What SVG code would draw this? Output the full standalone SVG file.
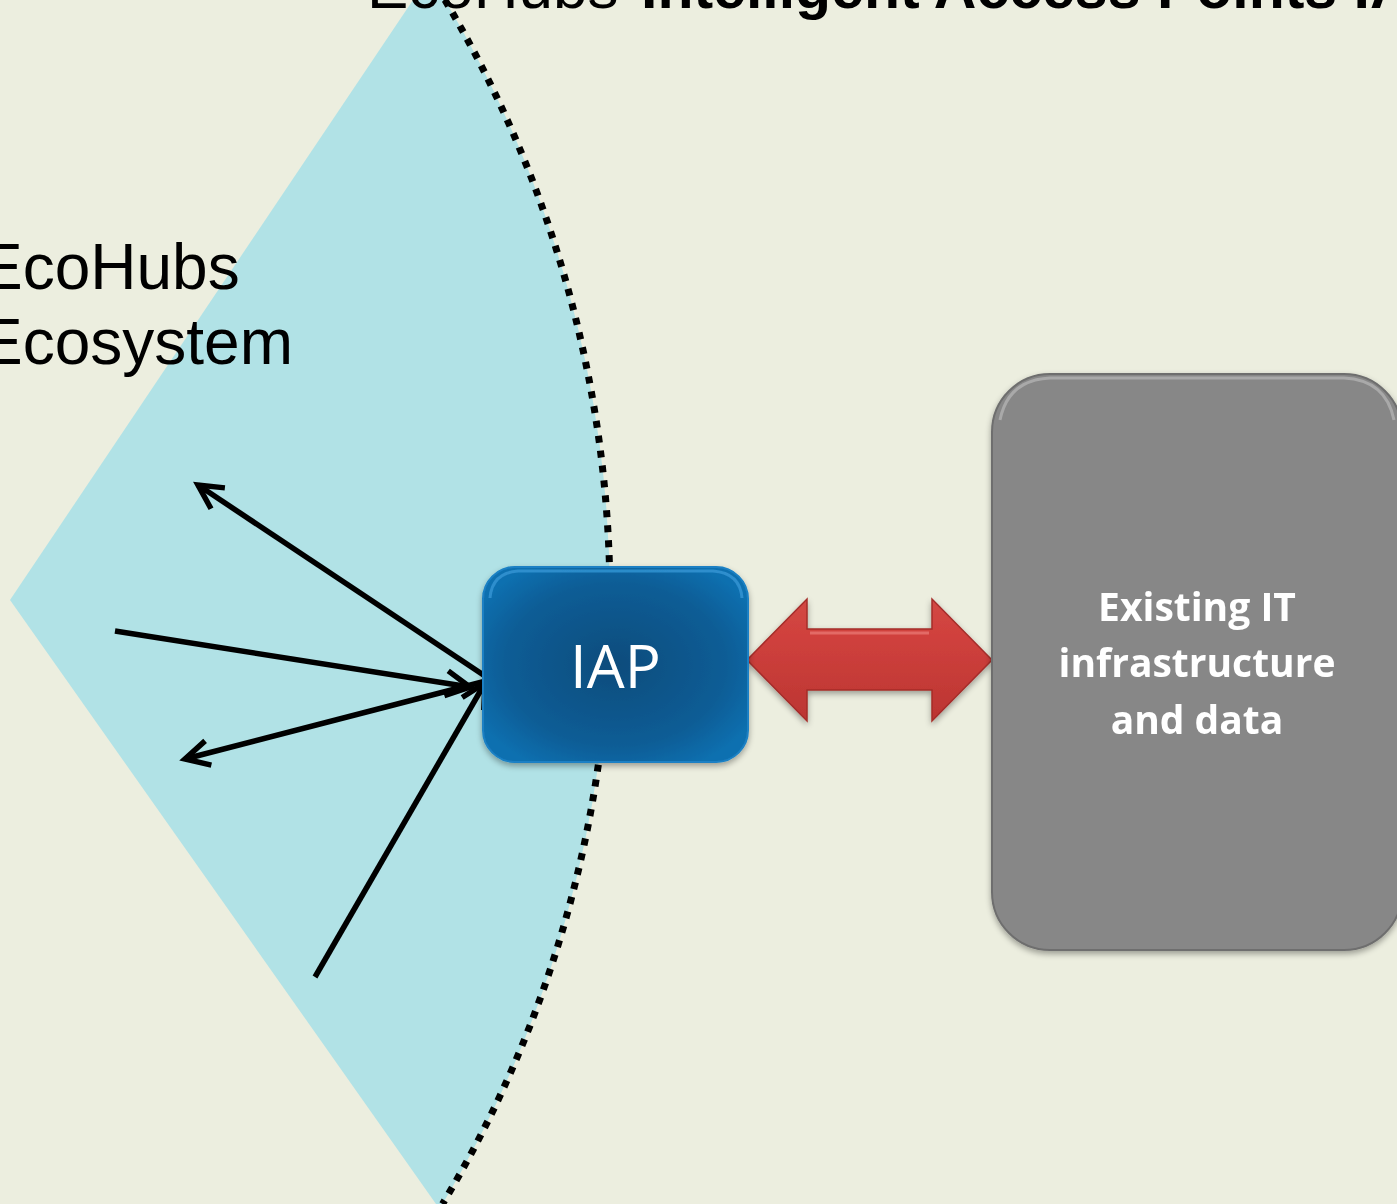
<svg xmlns="http://www.w3.org/2000/svg" width="1397" height="1204" viewBox="0 0 1397 1204">
<style>
.lbl{font-family:"Liberation Sans",Arial,sans-serif;fill:#000}
.wht{font-family:"Open Sans","Noto Sans",sans-serif;fill:#fff;text-anchor:middle}
.arw{stroke:#000;stroke-width:5.5;fill:none;marker-end:url(#head)}
</style>
<defs>
<marker id="head" markerUnits="userSpaceOnUse" viewBox="-30 -18 36 36" refX="0" refY="0" markerWidth="36" markerHeight="36" orient="auto">
<path d="M-24,-12.5 L0,0 L-24,12.5" fill="none" stroke="#000" stroke-width="5.5" stroke-linejoin="miter"/>
</marker>
<radialGradient id="iapG" cx="0.5" cy="0.5" r="0.6">
<stop offset="0" stop-color="#0a4c7c"/>
<stop offset="0.7" stop-color="#0c5d96"/>
<stop offset="1" stop-color="#1170b0"/>
</radialGradient>
<linearGradient id="redG" x1="0" y1="0" x2="0" y2="1">
<stop offset="0" stop-color="#d24844"/>
<stop offset="0.3" stop-color="#d0413d"/>
<stop offset="1" stop-color="#bb3532"/>
</linearGradient>
<filter id="sh" x="-10%" y="-10%" width="125%" height="125%">
<feGaussianBlur in="SourceAlpha" stdDeviation="3"/>
<feOffset dx="0" dy="3" result="b"/>
<feComponentTransfer><feFuncA type="linear" slope="0.35"/></feComponentTransfer>
<feMerge><feMergeNode/><feMergeNode in="SourceGraphic"/></feMerge>
</filter>
</defs>
<rect id="background" x="0" y="0" width="1397" height="1204" fill="#eceedf"/>
<g id="wedge">
<path d="M413,0 L10,600 L436,1204 L442.5,1204 A1173,1173 0 0 0 444.9,0 Z" fill="#b1e2e6"/>
<path d="M444.9,0 A1173,1173 0 0 1 442.5,1204" fill="none" stroke="#000" stroke-width="7" stroke-dasharray="7 8"/>
</g>
<g id="title">
<text class="lbl" x="367" y="8" font-size="62">EcoHubs <tspan x="641" font-size="59" font-weight="bold">Intelligent Access Points IA</tspan></text>
</g>
<g id="ecosystem-label">
<text class="lbl" x="-20" y="289" font-size="64">EcoHubs</text>
<text class="lbl" x="-20" y="364" font-size="64">Ecosystem</text>
</g>
<g id="connectors">
<line class="arw" x1="485" y1="676" x2="198" y2="485"/>
<line class="arw" x1="115" y1="631" x2="470" y2="687"/>
<line class="arw" x1="486" y1="681" x2="185" y2="759"/>
<line class="arw" x1="315" y1="977" x2="485" y2="683"/>
<g id="double-arrow" filter="url(#sh)">
<path d="M747,660 L807,599 L807,629 L932,629 L932,599 L992,660 L932,721 L932,690 L807,690 L807,721 Z" fill="url(#redG)" stroke="#a52d2a" stroke-width="1.5" stroke-linejoin="miter"/>
<path d="M810,633 L929,633" stroke="#e36a66" stroke-width="3" fill="none"/>
</g>
</g>
<g id="node-iap" filter="url(#sh)">
<rect x="483" y="567" width="265" height="195" rx="32" fill="url(#iapG)" stroke="#1a80c4" stroke-width="2"/>
<path d="M490,598 Q492,573 518,571 L713,571 Q740,573 742,598" fill="none" stroke="#3596d4" stroke-width="3" opacity="0.8"/>
<text class="wht" x="615.5" y="688" font-size="60">IAP</text>
</g>
<g id="node-it" filter="url(#sh)">
<rect x="992" y="374" width="410" height="576" rx="58" fill="#878787" stroke="#6e6e6e" stroke-width="2"/>
<path d="M1000,420 Q1008,380 1050,378 L1344,378 Q1386,380 1394,420" fill="none" stroke="#a9a9a9" stroke-width="3"/>
<text class="wht" x="1197" y="621" font-size="39" font-weight="bold">Existing IT</text>
<text class="wht" x="1197" y="677" font-size="39" font-weight="bold">infrastructure</text>
<text class="wht" x="1197" y="734" font-size="39" font-weight="bold">and data</text>
</g>
</svg>
